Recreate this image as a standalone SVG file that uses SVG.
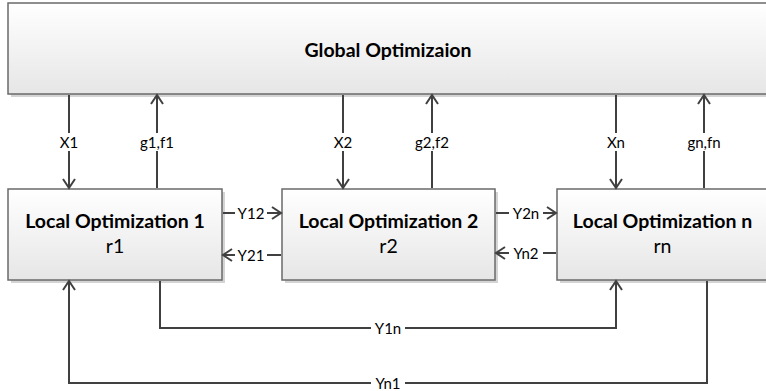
<svg xmlns="http://www.w3.org/2000/svg" width="766" height="391" viewBox="0 0 766 391">
  <defs>
    <linearGradient id="boxfill" x1="0" y1="0" x2="0" y2="1">
      <stop offset="0" stop-color="#ffffff"/>
      <stop offset="1" stop-color="#e6e6e6"/>
    </linearGradient>
    <marker id="arr" markerUnits="userSpaceOnUse" markerWidth="14" markerHeight="16" viewBox="-11 -8 14 16" refX="0" refY="0" orient="auto" overflow="visible">
      <path d="M-9,-6 L0,0 L-9,6" fill="none" stroke="#404040" stroke-width="2"/>
    </marker>
    <style>
      .box { fill: url(#boxfill); stroke: #6a6a6a; stroke-width: 1.5; }
      .shadow { fill: #d4d4d4; }
      .title { font-family: Lato, "Liberation Sans", sans-serif; font-weight: bold; font-size: 19.5px; fill: #000; text-anchor: middle; }
      .sub { font-family: Lato, "Liberation Sans", sans-serif; font-size: 19.5px; fill: #000; text-anchor: middle; }
      .conn { fill: none; stroke: #404040; stroke-width: 2; }
      .arrow { marker-end: url(#arr); }
      .lbg { fill: #ffffff; }
      .lbl { font-family: Lato, "Liberation Sans", sans-serif; font-size: 15px; fill: #000; text-anchor: middle; dominant-baseline: central; }
    </style>
  </defs>

  <g id="global">
    <rect class="shadow" x="11" y="6" width="762" height="91"/>
    <rect class="box" x="8" y="3" width="762" height="91"/>
    <text class="title" x="388" y="57">Global Optimizaion</text>
  </g>

  <g id="local1">
    <rect class="shadow" x="11" y="192" width="214" height="91"/>
    <rect class="box" x="8" y="189" width="214" height="91"/>
    <text class="title" x="115" y="228">Local Optimization 1</text>
    <text class="sub" x="115" y="253">r1</text>
  </g>

  <g id="local2">
    <rect class="shadow" x="285" y="192" width="213" height="91"/>
    <rect class="box" x="282" y="189" width="213" height="91"/>
    <text class="title" x="388.5" y="228">Local Optimization 2</text>
    <text class="sub" x="388.5" y="253">r2</text>
  </g>

  <g id="localn">
    <rect class="shadow" x="560" y="192" width="214" height="91"/>
    <rect class="box" x="557" y="189" width="214" height="91"/>
    <text class="title" x="662.5" y="228">Local Optimization n</text>
    <text class="sub" x="662.5" y="253">rn</text>
  </g>

  <g id="connectors">
    <path class="conn arrow" d="M69,95 V188"/>
    <path class="conn arrow" d="M157,188 V95"/>
    <path class="conn arrow" d="M343,95 V188"/>
    <path class="conn arrow" d="M432,188 V95"/>
    <path class="conn arrow" d="M616,95 V188"/>
    <path class="conn arrow" d="M704,188 V95"/>
    <path class="conn arrow" d="M223,213 H281"/>
    <path class="conn arrow" d="M281,255 H223"/>
    <path class="conn arrow" d="M496,213 H556"/>
    <path class="conn arrow" d="M556,253 H496"/>
    <path class="conn arrow" d="M160,281 V328 H616 V281"/>
    <path class="conn arrow" d="M707,281 V383 H69 V281"/>

    <g id="labels">
      <rect class="lbg" x="57" y="133" width="24" height="18"/>
      <text class="lbl" x="69" y="142">X1</text>
      <rect class="lbg" x="137" y="133" width="40" height="18"/>
      <text class="lbl" x="157" y="142">g1,f1</text>
      <rect class="lbg" x="331" y="133" width="24" height="18"/>
      <text class="lbl" x="343" y="142">X2</text>
      <rect class="lbg" x="412" y="133" width="40" height="18"/>
      <text class="lbl" x="432" y="142">g2,f2</text>
      <rect class="lbg" x="604" y="133" width="24" height="18"/>
      <text class="lbl" x="616" y="142">Xn</text>
      <rect class="lbg" x="683" y="133" width="42" height="18"/>
      <text class="lbl" x="704" y="142">gn,fn</text>

      <rect class="lbg" x="235" y="205" width="32" height="16"/>
      <text class="lbl" x="251" y="213">Y12</text>
      <rect class="lbg" x="235" y="247" width="32" height="16"/>
      <text class="lbl" x="251" y="255">Y21</text>
      <rect class="lbg" x="509" y="205" width="34" height="16"/>
      <text class="lbl" x="526" y="213">Y2n</text>
      <rect class="lbg" x="509" y="245" width="34" height="16"/>
      <text class="lbl" x="526" y="253">Yn2</text>

      <rect class="lbg" x="371" y="320" width="34" height="16"/>
      <text class="lbl" x="388" y="328">Y1n</text>
      <rect class="lbg" x="371" y="375" width="34" height="16"/>
      <text class="lbl" x="388" y="383">Yn1</text>
    </g>
  </g>
</svg>
